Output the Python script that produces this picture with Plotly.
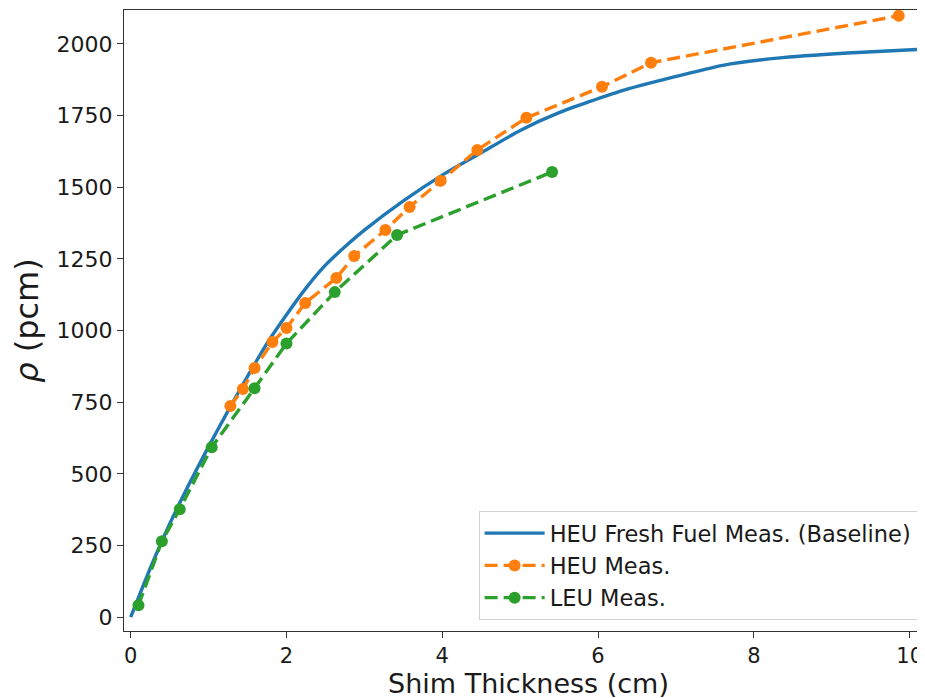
import plotly.graph_objects as go

# Baseline (HEU fresh fuel) curve
base_x = [0, 0.25, 0.5, 0.75, 1.0, 1.25, 1.5, 1.75, 2.0, 2.25, 2.5, 2.75, 3.0, 3.5, 4.0, 4.5, 5.0, 5.5, 6.3, 7.6, 8.3, 9.2, 10.3]
base_y = [0, 170, 325, 465, 595, 720, 840, 955, 1055, 1148, 1228, 1292, 1350, 1452, 1542, 1620, 1698, 1760, 1836, 1925, 1950, 1968, 1983]

# HEU measurements
heu_x = [1.28, 1.44, 1.59, 1.82, 2.0, 2.24, 2.64, 2.87, 3.27, 3.58, 3.98, 4.45, 5.08, 6.05, 6.68, 9.86]
heu_y = [737, 796, 869, 960, 1009, 1096, 1183, 1260, 1351, 1431, 1522, 1630, 1742, 1850, 1934, 2098]

# LEU measurements
leu_x = [0.1, 0.4, 0.63, 1.04, 1.59, 2.0, 2.62, 3.42, 5.41]
leu_y = [42, 265, 377, 593, 799, 955, 1134, 1333, 1553]

x_ticks = [0, 2, 4, 6, 8, 10]
y_ticks = [0, 250, 500, 750, 1000, 1250, 1500, 1750, 2000]

FONT = "DejaVu Sans"

fig = go.Figure()
fig.add_trace(go.Scatter(x=base_x, y=base_y, mode="lines", name="HEU Fresh Fuel Meas. (Baseline)",
                         line=dict(color="#1f77b4", width=3.4, shape="spline", smoothing=0.5)))
fig.add_trace(go.Scatter(x=heu_x, y=heu_y, mode="lines+markers", name="HEU Meas.",
                         line=dict(color="#ff7f0e", width=3.4, dash="13px,6px"),
                         marker=dict(color="#ff7f0e", size=12)))
fig.add_trace(go.Scatter(x=leu_x, y=leu_y, mode="lines+markers", name="LEU Meas.",
                         line=dict(color="#2ca02c", width=3.4, dash="13px,6px"),
                         marker=dict(color="#2ca02c", size=12)))

fig.update_layout(
    width=925, height=698,
    margin=dict(l=116, r=0, t=2, b=75),
    paper_bgcolor="white", plot_bgcolor="white",
    font=dict(family=FONT, color="#1a1a1a", size=22),
    showlegend=True,
    legend=dict(x=0.981, xanchor="right", y=0.0177, yanchor="bottom",
                bgcolor="rgba(255,255,255,0.85)", bordercolor="#d0d0d0", borderwidth=1,
                font=dict(family=FONT, size=22.5, color="#1a1a1a"),
                itemwidth=60, tracegroupgap=0),
    xaxis=dict(range=[-0.086, 10.3], tickvals=x_ticks, ticks="outside", ticklen=6, tickwidth=1.3,
               tickcolor="#333", showline=True, linecolor="#333", linewidth=1.3, mirror=True,
               showgrid=False, zeroline=False, tickfont=dict(size=21), automargin=False,
               title=dict(text="Shim Thickness (cm)", font=dict(size=27), standoff=0)),
    yaxis=dict(range=[-48, 2118], tickvals=y_ticks, ticks="outside", ticklen=6, tickwidth=1.3,
               tickcolor="#333", showline=True, linecolor="#333", linewidth=1.3, mirror=False,
               showgrid=False, zeroline=False, tickfont=dict(size=22), automargin=False,
               title=dict(text="<i>ρ</i> (pcm)", font=dict(size=32), standoff=10)),
)

fig.write_html("out.html")
